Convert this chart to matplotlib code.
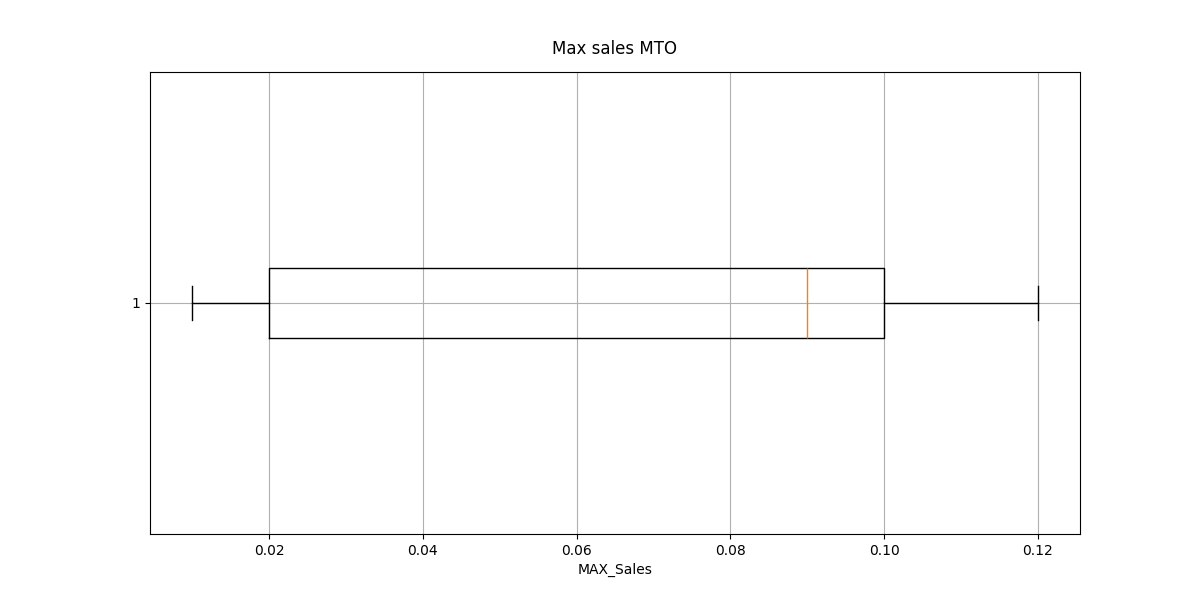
import matplotlib
matplotlib.use("Agg")
import matplotlib.pyplot as plt

max_sales = [0.01, 0.02, 0.09, 0.10, 0.12]

fig = plt.figure(figsize=(12, 6), dpi=100)
plt.boxplot(max_sales, vert=False)
plt.title("Max sales MTO", pad=13)
plt.xlabel("MAX_Sales")
plt.grid(True)
plt.savefig("out.png")
